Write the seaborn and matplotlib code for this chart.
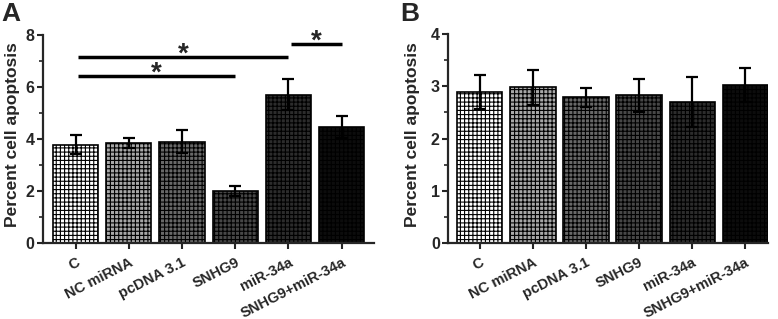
import matplotlib
matplotlib.use("Agg")
import matplotlib.pyplot as plt
import seaborn as sns
import pandas as pd

groups = ["C", "NC miRNA", "pcDNA 3.1", "SNHG9", "miR-34a", "SNHG9+miR-34a"]
fills = ["#ffffff", "#a8a8a8", "#686868", "#474747", "#2c2c2c", "#0c0c0c"]

# panel A values and SEM
mean_a = [3.78, 3.85, 3.90, 2.00, 5.70, 4.46]
err_a = [0.37, 0.20, 0.45, 0.20, 0.60, 0.42]
# panel B values and SEM
mean_b = [2.89, 2.98, 2.79, 2.83, 2.70, 3.03]
err_b = [0.32, 0.34, 0.18, 0.32, 0.47, 0.33]

# significance brackets in A: (left group, right group, height)
sig_a = [(0, 4, 7.15), (0, 3, 6.42), (4, 5, 7.65)]

sns.set_style("ticks")
plt.rcParams["font.family"] = ["Liberation Sans", "DejaVu Sans"]
plt.rcParams["font.weight"] = "bold"
plt.rcParams["hatch.linewidth"] = 0.8
plt.rcParams["hatch.color"] = "black"

fig = plt.figure(figsize=(7.78, 3.19), dpi=100)
ax_a = fig.add_axes([0.0553, 0.238, 0.4257, 0.652])
ax_b = fig.add_axes([0.576, 0.238, 0.411, 0.655])


def draw_panel(ax, means, errs, ymax, major, xlim, label_x):
    df = pd.DataFrame({"group": groups, "value": means})
    sns.barplot(data=df, x="group", y="value", hue="group", palette=fills,
                order=groups, hue_order=groups, legend=False, width=0.85,
                edgecolor="black", linewidth=1.2, errorbar=None, ax=ax,
                saturation=1)
    for p in ax.patches:
        p.set_hatch("++++")
    ax.errorbar(range(len(groups)), means, yerr=errs, fmt="none",
                ecolor="black", elinewidth=1.6, capsize=4.5, capthick=1.6,
                zorder=5)
    ax.set_ylim(0, ymax)
    ax.set_xlim(*xlim)
    ax.set_yticks([i * major for i in range(int(ymax / major) + 1)])
    ax.set_yticks([major / 2 + i * major for i in range(int(ymax / major))], minor=True)
    ax.set_xlabel("")
    ax.set_ylabel("Percent cell apoptosis", fontsize=12.5, fontweight="bold")
    ax.yaxis.set_label_coords(label_x, 0.52)
    ax.set_xticks(range(len(groups)))
    ax.set_xticklabels(groups, rotation=27, ha="right", rotation_mode="anchor",
                       fontsize=10.5, fontweight="bold")
    for lab in ax.get_yticklabels():
        lab.set_fontsize(11.5)
        lab.set_fontweight("bold")
    ax.tick_params(axis="both", which="major", width=1.5, length=4, pad=2)
    ax.tick_params(axis="x", which="major", pad=5)
    ax.tick_params(axis="y", which="minor", width=1.2, length=3)
    for s in ["left", "bottom"]:
        ax.spines[s].set_linewidth(1.6)
    sns.despine(ax=ax)


draw_panel(ax_a, mean_a, err_a, 8, 2, (-0.61, 5.61), -0.07)
draw_panel(ax_b, mean_b, err_b, 4, 1, (-0.6, 5.43), -0.088)

for left, right, h in sig_a:
    ax_a.plot([left + 0.05, right], [h, h], color="black", lw=2.5,
              solid_capstyle="butt", clip_on=False)
    ax_a.annotate("*", xy=((left + 0.05 + right) / 2, h), xytext=(0, -3),
                  textcoords="offset points", ha="center", va="baseline",
                  fontsize=20, fontweight="bold")

fig.text(0.002, 0.995, "A", fontsize=19, fontweight="bold", va="top", ha="left")
fig.text(0.515, 0.995, "B", fontsize=19, fontweight="bold", va="top", ha="left")

fig.savefig("out.png", dpi=100)
